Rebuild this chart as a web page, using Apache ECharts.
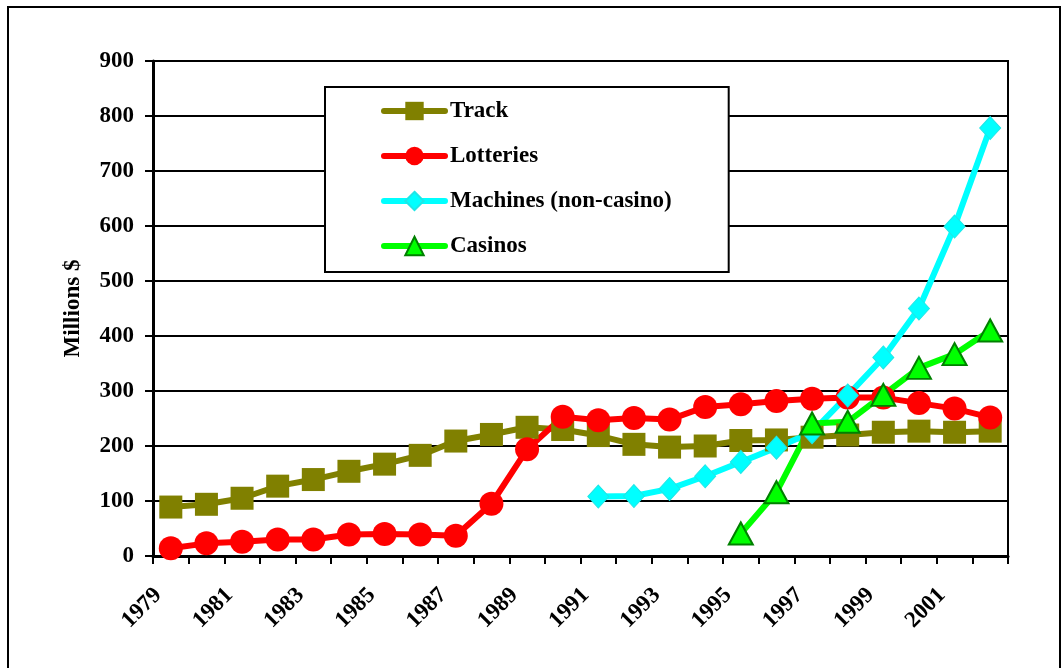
<!DOCTYPE html>
<html>
<head>
<meta charset="utf-8">
<script src="https://cdn.jsdelivr.net/npm/echarts@6/dist/echarts.min.js"></script>
<style>
  html, body { margin: 0; padding: 0; background: #ffffff; }
  #chart { width: 1062px; height: 668px; }
</style>
</head>
<body>
<div id="chart"></div>
<script>
// Gambling revenue by source, millions of dollars, 1979-2002
const years = ['1979','1980','1981','1982','1983','1984','1985','1986','1987','1988','1989','1990',
               '1991','1992','1993','1994','1995','1996','1997','1998','1999','2000','2001','2002'];

const track     = [89, 94, 105, 127, 139, 154, 167, 183, 209, 221, 234, 230,
                   219, 203, 198, 200, 210, 211, 216, 220, 225, 227, 225, 227];
const lotteries = [14, 23, 26, 30, 30, 39, 40, 39, 37, 95, 194, 253,
                   247, 251, 248, 271, 276, 282, 286, 288, 288, 278, 268, 252];
const machines  = [null, null, null, null, null, null, null, null, null, null, null, null,
                   108, 109, 122, 145, 171, 197, 225, 292, 361, 450, 599, 778];
const casinos   = [null, null, null, null, null, null, null, null, null, null, null, null,
                   null, null, null, null, 41, 116, 241, 244, 293, 342, 367, 410];

const yTicks = { min: 0, max: 900, step: 100 };

const FONT = '"Liberation Serif", "Times New Roman", serif';

const chart = echarts.init(document.getElementById('chart'), null, { renderer: 'canvas' });

function lineSeries(name, data, color, symbol, size, extraItem) {
  return {
    name: name,
    type: 'line',
    data: data,
    symbol: symbol,
    symbolSize: size,
    showAllSymbol: true,
    connectNulls: false,
    lineStyle: { color: color, width: 6, cap: 'round', join: 'round' },
    itemStyle: Object.assign({ color: color, opacity: 1 }, extraItem || {}),
    emphasis: { disabled: true },
    animation: false
  };
}

chart.setOption({
  backgroundColor: '#ffffff',
  animation: false,
  textStyle: { fontFamily: FONT },
  graphic: [
    {
      // chart-area frame (open at the bottom)
      type: 'rect',
      shape: { x: 8, y: 7, width: 1052, height: 2000 },
      style: { fill: 'none', stroke: '#000000', lineWidth: 2 },
      silent: true,
      z: -10
    }
  ],
  grid: {
    left: 153, right: 54, top: 61, bottom: 112,
    show: true,
    borderColor: '#000000',
    borderWidth: 2,
    backgroundColor: 'transparent'
  },
  legend: {
    left: 325,
    top: 87,
    orient: 'vertical',
    backgroundColor: '#ffffff',
    borderColor: '#000000',
    borderWidth: 2,
    borderRadius: 0,
    padding: [12, 57, 14, 56],
    itemGap: 21,
    itemWidth: 61,
    itemHeight: 23,
    itemTextGap: 2,
    selectedMode: false,
    lineStyle: { width: 6, cap: 'round' },
    textStyle: { fontFamily: FONT, fontWeight: 'bold', fontSize: 23, color: '#000000', lineHeight: 24 },
    data: ['Track', 'Lotteries', 'Machines (non-casino)', 'Casinos'],
    z: 10
  },
  xAxis: {
    type: 'category',
    data: years,
    boundaryGap: true,
    axisLine: { show: true, lineStyle: { color: '#000000', width: 3 } },
    axisTick: { show: true, interval: 0, length: 8, inside: false, lineStyle: { color: '#000000', width: 2 } },
    axisLabel: {
      interval: 1,
      rotate: 45,
      margin: 23,
      padding: [0, 18, 0, 0],
      fontFamily: FONT,
      fontWeight: 'bold',
      fontSize: 23,
      color: '#000000'
    },
    splitLine: { show: false }
  },
  yAxis: {
    type: 'value',
    min: yTicks.min,
    max: yTicks.max,
    interval: yTicks.step,
    name: 'Millions $',
    nameLocation: 'middle',
    nameRotate: 90,
    nameGap: 68,
    nameTextStyle: { fontFamily: FONT, fontWeight: 'bold', fontSize: 23, color: '#000000' },
    axisLine: { show: true, lineStyle: { color: '#000000', width: 3 } },
    axisTick: { show: true, length: 8, inside: false, lineStyle: { color: '#000000', width: 2 } },
    axisLabel: { margin: 19, fontFamily: FONT, fontWeight: 'bold', fontSize: 23, color: '#000000' },
    splitLine: { show: true, lineStyle: { color: '#000000', width: 2 } }
  },
  series: [
    lineSeries('Track', track, '#808000', 'rect', 23),
    lineSeries('Lotteries', lotteries, '#FF0000', 'circle', 24),
    lineSeries('Machines (non-casino)', machines, '#00FFFF', 'diamond', [21, 23],
               { borderColor: '#1EE6E6', borderWidth: 1 }),
    lineSeries('Casinos', casinos, '#00FF00', 'triangle', [24, 22],
               { borderColor: '#008000', borderWidth: 2 })
  ]
});
</script>
</body>
</html>
